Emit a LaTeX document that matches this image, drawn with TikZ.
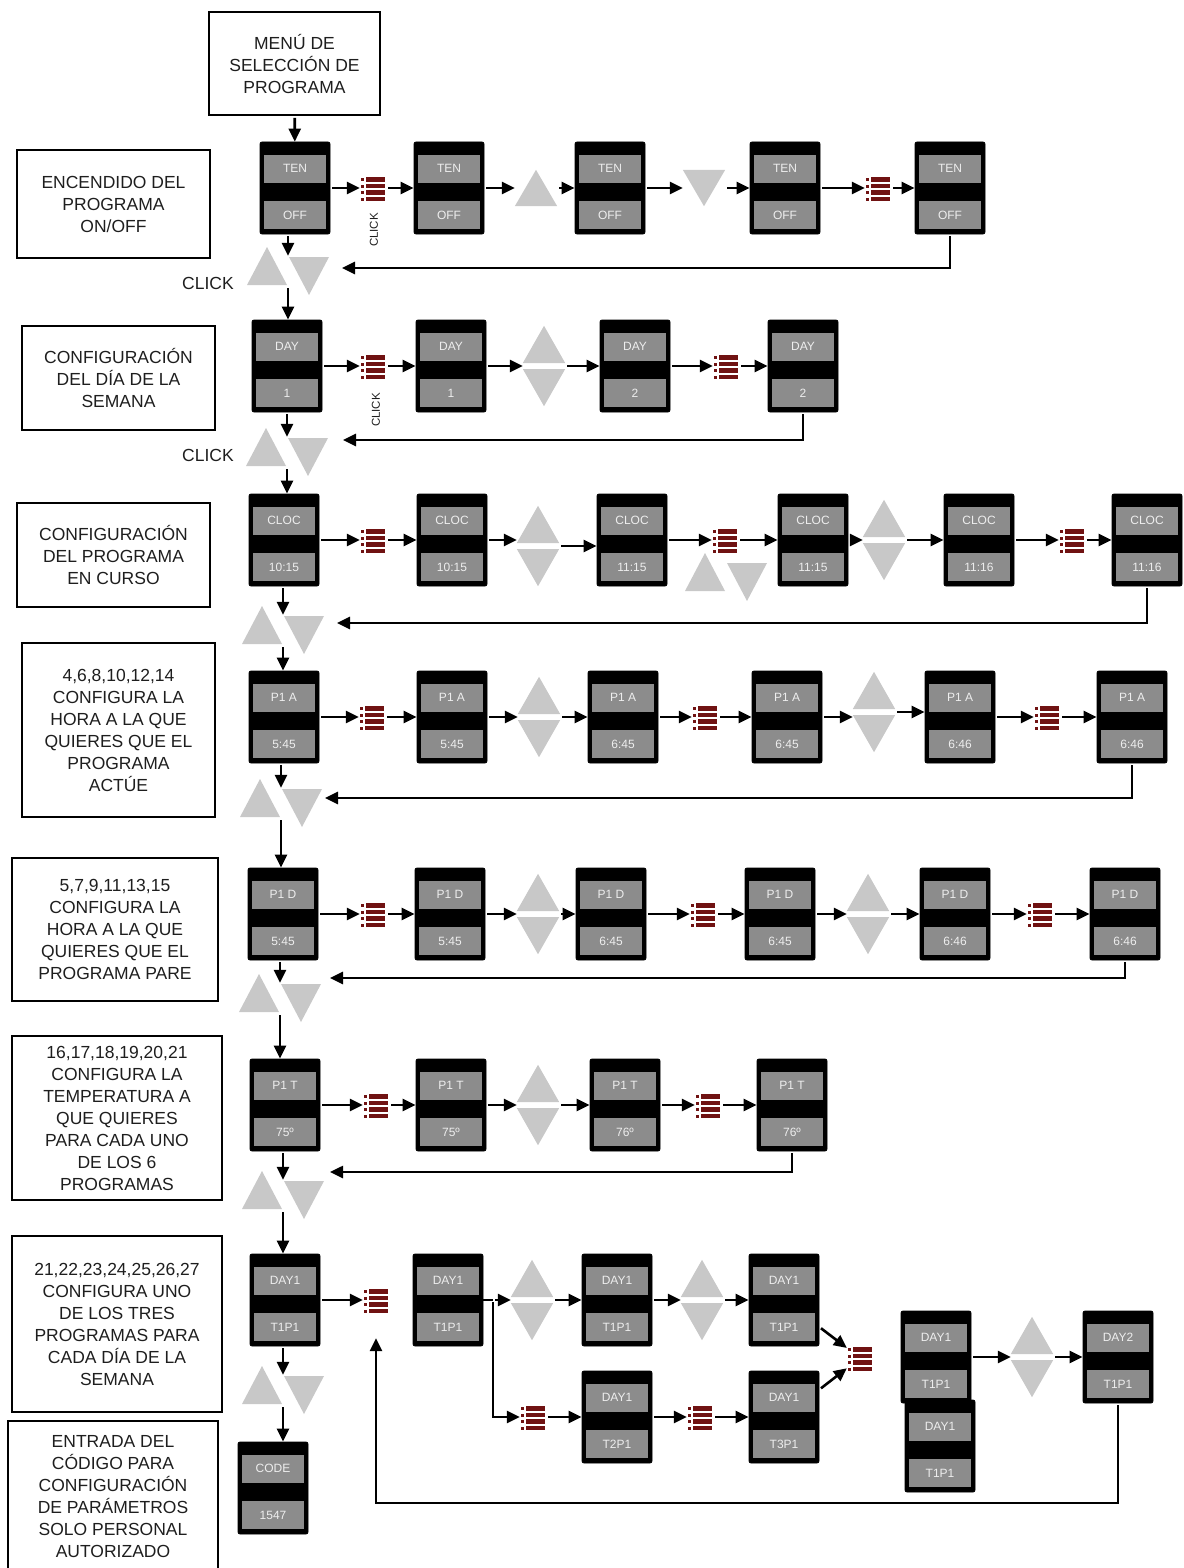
\documentclass[tikz,border=0pt]{standalone}
\usepackage{fontspec}
\setmainfont{Liberation Sans}
\usetikzlibrary{arrows.meta}
\definecolor{lcdgray}{RGB}{140,140,140}
\definecolor{trigray}{RGB}{200,200,200}
\definecolor{menured}{RGB}{112,18,18}
\definecolor{inktext}{RGB}{30,30,30}

\newcommand{\lcd}[4]{%
  \node[lcd] (#1) at (#2) {};
  \node[lcdlbl] (#1t) at ([yshift=-27pt]#1.north) {#3};
  \node[lcdlbl] (#1b) at ([yshift=19pt]#1.south) {#4};}
\newcommand{\menuicon}[2]{%
  \node[menu] (#1) at (#2) {};
  \foreach \row in {0,1,2,3}{%
    \fill[menured] ([shift={(-12pt,{10pt-6.5pt*\row})}]#1.center) rectangle ++(3pt,-3pt);
    \fill[menured] ([shift={(-7pt,{11pt-6.5pt*\row})}]#1.center) rectangle ++(19pt,-4.5pt);
  }}
\newcommand{\uptri}[2]{%
  \node[trisolo] (#1) at (#2) {};
  \fill[trigray] (#1.south west) -- (#1.south east) -- (#1.north) -- cycle;}
\newcommand{\dntri}[2]{%
  \node[trisolo] (#1) at (#2) {};
  \fill[trigray] (#1.north west) -- (#1.north east) -- (#1.south) -- cycle;}
\newcommand{\updown}[2]{%
  \node[trigrp] (#1) at (#2) {};
  \fill[trigray] ([yshift=3pt]#1.west) -- ([yshift=3pt]#1.east) -- (#1.north) -- cycle;
  \fill[trigray] ([yshift=-3pt]#1.west) -- ([yshift=-3pt]#1.east) -- (#1.south) -- cycle;}
\newcommand{\clickpair}[2]{%
  \node[pairgrp] (#1) at (#2) {};
  \fill[trigray] ([shift={(-41pt,-14pt)}]#1.center) -- ([shift={(-1pt,-14pt)}]#1.center) -- ([shift={(-21pt,24pt)}]#1.center) -- cycle;
  \fill[trigray] ([shift={(1pt,14pt)}]#1.center) -- ([shift={(41pt,14pt)}]#1.center) -- ([shift={(21pt,-24pt)}]#1.center) -- cycle;}

\begin{document}
\begin{tikzpicture}[x=1pt, y=-1pt,
    lcd/.style={draw=black, fill=black, rounded corners=2pt, line width=0.8pt, minimum width=70pt, minimum height=92pt, inner sep=0pt},
    lcdlbl/.style={fill=lcdgray, minimum width=62pt, minimum height=28pt, inner sep=0pt, text=white!85!lcdgray, font=\fontsize{12}{13}\selectfont},
    menu/.style={minimum width=26pt, minimum height=24pt, inner sep=0pt},
    trisolo/.style={minimum width=42pt, minimum height=36pt, inner sep=0pt},
    trigrp/.style={minimum width=42pt, minimum height=80pt, inner sep=0pt},
    pairgrp/.style={minimum width=100pt, minimum height=30pt, inner sep=0pt},
    note/.style={draw, line width=1.8pt, align=center, inner sep=0pt, text=inktext, font=\fontsize{17.5}{22}\selectfont},
    clicklbl/.style={text=inktext, font=\fontsize{17.5}{20}\selectfont},
    clicksm/.style={rotate=90, text=inktext, font=\fontsize{11.5}{12}\selectfont},
    arr/.style={-{Triangle[length=13pt,width=12pt]}, line width=2.6pt, shorten <=2pt}]
    \useasboundingbox (0,0) rectangle (1183,1568);

    \node[note, minimum width=171pt, minimum height=103pt] (b0) at (294.5,63.5) {MENÚ DE\\SELECCIÓN DE\\PROGRAMA};
    \node[note, minimum width=193pt, minimum height=108pt] (b1) at (113.5,204) {ENCENDIDO DEL\\PROGRAMA\\ON/OFF};
    \node[note, minimum width=193pt, minimum height=104pt] (b2) at (118.5,378) {CONFIGURACIÓN\\DEL DÍA DE LA\\SEMANA};
    \node[note, minimum width=193pt, minimum height=104pt] (b3) at (113.5,555) {CONFIGURACIÓN\\DEL PROGRAMA\\EN CURSO};
    \node[note, minimum width=193pt, minimum height=174pt] (b4) at (118.5,730) {4,6,8,10,12,14\\CONFIGURA LA\\HORA A LA QUE\\QUIERES QUE EL\\PROGRAMA\\ACTÚE};
    \node[note, minimum width=206pt, minimum height=143pt] (b5) at (115,929.5) {5,7,9,11,13,15\\CONFIGURA LA\\HORA A LA QUE\\QUIERES QUE EL\\PROGRAMA PARE};
    \node[note, minimum width=210pt, minimum height=164pt] (b6) at (117,1118) {16,17,18,19,20,21\\CONFIGURA LA\\TEMPERATURA A\\QUE QUIERES\\PARA CADA UNO\\DE LOS 6\\PROGRAMAS};
    \node[note, minimum width=210pt, minimum height=176pt] (b7) at (117,1324) {21,22,23,24,25,26,27\\CONFIGURA UNO\\DE LOS TRES\\PROGRAMAS PARA\\CADA DÍA DE LA\\SEMANA};
    \node[note, minimum width=210pt, minimum height=152pt] (b8) at (113,1497) {ENTRADA DEL\\CÓDIGO PARA\\CONFIGURACIÓN\\DE PARÁMETROS\\SOLO PERSONAL\\AUTORIZADO};

    \lcd{d11}{295,188}{TEN}{OFF}
    \menuicon{m11}{373,188}
    \node[clicksm] (c11) at (374,230) {CLICK};
    \lcd{d12}{449,188}{TEN}{OFF}
    \uptri{t12}{536,188}
    \lcd{d13}{610,188}{TEN}{OFF}
    \dntri{t13}{704,188}
    \lcd{d14}{785,188}{TEN}{OFF}
    \menuicon{m14}{878,188}
    \lcd{d15}{950,188}{TEN}{OFF}
    \clickpair{p1}{288,271}
    \node[clicklbl] (k1) at (208,283) {CLICK};
    \coordinate (r1) at (342,268);

    \lcd{d21}{287,366}{DAY}{1}
    \menuicon{m21}{373,366}
    \node[clicksm] (c21) at (376,410) {CLICK};
    \lcd{d22}{451,366}{DAY}{1}
    \updown{u22}{544,366}
    \lcd{d23}{635,366}{DAY}{2}
    \menuicon{m23}{726,366}
    \lcd{d24}{803,366}{DAY}{2}
    \clickpair{p2}{287,452}
    \node[clicklbl] (k2) at (208,455) {CLICK};
    \coordinate (r2) at (343,440);

    \lcd{d31}{284,540}{CLOC}{10:15}
    \menuicon{m31}{373,540}
    \lcd{d32}{452,540}{CLOC}{10:15}
    \updown{u32}{538,546}
    \lcd{d33}{632,540}{CLOC}{11:15}
    \menuicon{m33}{725,540}
    \clickpair{q33}{726,577}
    \lcd{d34}{813,540}{CLOC}{11:15}
    \updown{u34}{884,540}
    \lcd{d35}{979,540}{CLOC}{11:16}
    \menuicon{m35}{1072,540}
    \lcd{d36}{1147,540}{CLOC}{11:16}
    \clickpair{p3}{283,630}
    \coordinate (r3) at (337,623);

    \lcd{d41}{284,717}{P1 A}{5:45}
    \menuicon{m41}{372,717}
    \lcd{d42}{452,717}{P1 A}{5:45}
    \updown{u42}{539,717}
    \lcd{d43}{623,717}{P1 A}{6:45}
    \menuicon{m43}{705,717}
    \lcd{d44}{787,717}{P1 A}{6:45}
    \updown{u44}{874,712}
    \lcd{d45}{960,717}{P1 A}{6:46}
    \menuicon{m45}{1047,717}
    \lcd{d46}{1132,717}{P1 A}{6:46}
    \clickpair{p4}{281,803}
    \coordinate (r4) at (325,798);

    \lcd{d51}{283,914}{P1 D}{5:45}
    \menuicon{m51}{373,914}
    \lcd{d52}{450,914}{P1 D}{5:45}
    \updown{u52}{538,914}
    \lcd{d53}{611,914}{P1 D}{6:45}
    \menuicon{m53}{703,914}
    \lcd{d54}{780,914}{P1 D}{6:45}
    \updown{u54}{868,914}
    \lcd{d55}{955,914}{P1 D}{6:46}
    \menuicon{m55}{1040,914}
    \lcd{d56}{1125,914}{P1 D}{6:46}
    \clickpair{p5}{280,998}
    \coordinate (r5) at (330,978);

    \lcd{d61}{285,1105}{P1 T}{75º}
    \menuicon{m61}{376,1105}
    \lcd{d62}{451,1105}{P1 T}{75º}
    \updown{u62}{538,1105}
    \lcd{d63}{625,1105}{P1 T}{76º}
    \menuicon{m63}{708,1105}
    \lcd{d64}{792,1105}{P1 T}{76º}
    \clickpair{p6}{283,1195}
    \coordinate (r6) at (330,1172);

    \lcd{d71}{285,1300}{DAY1}{T1P1}
    \menuicon{m71}{376,1300}
    \lcd{d72}{448,1300}{DAY1}{T1P1}
    \coordinate (j7) at (493,1300);
    \updown{u73}{532,1300}
    \lcd{d73}{617,1300}{DAY1}{T1P1}
    \updown{u74}{702,1300}
    \lcd{d74}{784,1300}{DAY1}{T1P1}
    \menuicon{m75}{533,1417}
    \lcd{d75}{617,1417}{DAY1}{T2P1}
    \menuicon{m76}{700,1417}
    \lcd{d76}{784,1417}{DAY1}{T3P1}
    \menuicon{m77}{860,1358}
    \lcd{d77b}{940,1446}{DAY1}{T1P1}
    \lcd{d77a}{936,1357}{DAY1}{T1P1}
    \updown{u78}{1032,1357}
    \lcd{d78}{1118,1357}{DAY2}{T1P1}
    \clickpair{p7}{283,1390}
    \coordinate (r7) at (376,1503);

    \lcd{d8}{273,1488}{CODE}{1547}

    \draw[arr] (b0) -- (d11);
    \foreach \a/\b in {d11/m11, m11/d12, d12/t12, t12/d13, d13/t13, t13/d14, d14/m14, m14/d15,
        d21/m21, m21/d22, d22/u22, u22/d23, d23/m23, m23/d24,
        d31/m31, m31/d32, d33/m33, m33/d34, d34/u34, u34/d35, d35/m35, m35/d36,
        d41/m41, m41/d42, d42/u42, u42/d43, d43/m43, m43/d44, d45/m45, m45/d46,
        d51/m51, m51/d52, d52/u52, u52/d53, d53/m53, m53/d54, d54/u54, u54/d55, d55/m55, m55/d56,
        d61/m61, m61/d62, d62/u62, u62/d63, d63/m63, m63/d64,
        d71/m71, j7/u73, u73/d73, d73/u74, u74/d74, d74/m77,
        m75/d75, d75/m76, m76/d76, d76/m77, d77a/u78, u78/d78}
      \draw[arr] (\a) -- (\b);
    \foreach \a/\b in {d32/u32, u32/d33, d44/u44, u44/d45}
      \draw[arr] (\a.east) -- (\b.west |- \a.east);
    \foreach \a/\p/\b in {d11/p1/d21, d21/p2/d31, d31/p3/d41, d41/p4/d51, d51/p5/d61, d61/p6/d71, d71/p7/d8} {
      \draw[arr] (\a.south -| \p) -- (\p.north);
      \draw[arr] (\p.south) -- (\b.north -| \p);
    }
    \foreach \a/\r in {d15/r1, d24/r2, d36/r3, d46/r4, d56/r5, d64/r6}
      \draw[arr] (\a.south) |- (\r);
    \draw[line width=2.6pt] (d72.east) -- (j7);
    \draw[arr] (j7) |- (m75);
    \draw[arr, shorten >=26pt] (d78.south) |- (r7) -- (m71.south);
\end{tikzpicture}
\end{document}
